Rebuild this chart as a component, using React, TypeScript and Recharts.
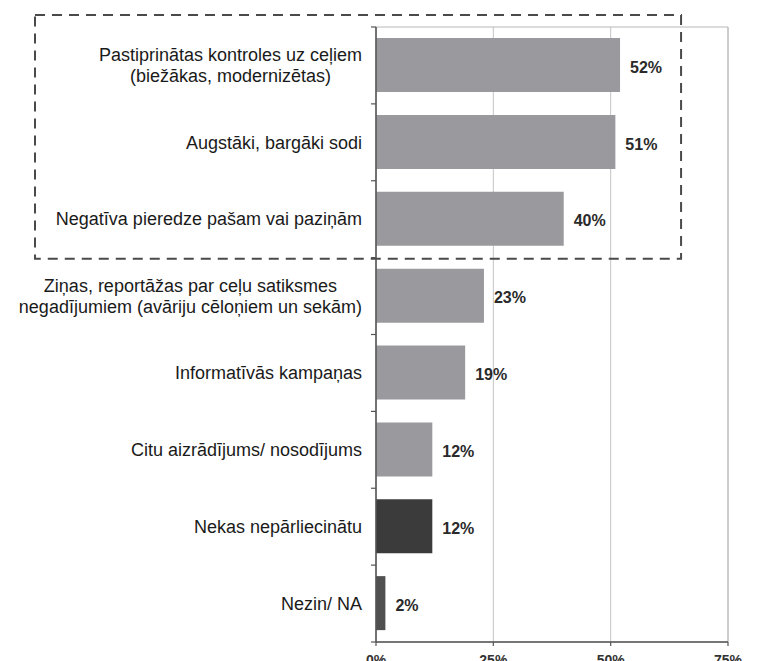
import React from "react";
import {
  BarChart,
  Bar,
  XAxis,
  YAxis,
  CartesianGrid,
  Cell,
  LabelList,
  ReferenceArea,
} from "recharts";

const categories = [
  "Pastiprinātas kontroles uz ceļiem\n(biežākas, modernizētas)",
  "Augstāki, bargāki sodi",
  "Negatīva pieredze pašam vai paziņām",
  "Ziņas, reportāžas par ceļu satiksmes\nnegadījumiem (avāriju cēloņiem un sekām)",
  "Informatīvās kampaņas",
  "Citu aizrādījums/ nosodījums",
  "Nekas nepārliecinātu",
  "Nezin/ NA",
];
const values = [52, 51, 40, 23, 19, 12, 12, 2];
const barColors = [
  "#9a9a9e",
  "#9a9a9e",
  "#9a9a9e",
  "#9a9a9e",
  "#9a9a9e",
  "#9a9a9e",
  "#3b3b3b",
  "#505050",
];
const xTicks = [0, 25, 50, 75];
const highlighted = [categories[0], categories[2]];

const data = categories.map((name, i) => ({ name, value: values[i] }));

const W = 757;
const H = 661;
const MARGIN = { top: 27, right: 29, bottom: 0, left: 0 };
const YAXIS_W = 376;
const XAXIS_H = 19;
const BAND = (H - MARGIN.top - MARGIN.bottom - XAXIS_H) / categories.length;
const LABEL_FONT = "18px 'Liberation Sans', Arial, sans-serif";

let canvasCtx: CanvasRenderingContext2D | null = null;
function measure(text: string): number {
  if (!canvasCtx) {
    const c = document.createElement("canvas");
    canvasCtx = c.getContext("2d");
  }
  if (!canvasCtx) return text.length * 9;
  canvasCtx.font = LABEL_FONT;
  return canvasCtx.measureText(text).width;
}

const CatTick = (props: any) => {
  const { y, payload, index } = props;
  const axisX = MARGIN.left + YAXIS_W;
  const rightEdge = axisX - 14;
  const lines: string[] = String(payload.value).split("\n");
  const maxW = Math.max(...lines.map(measure));
  const cx = rightEdge - maxW / 2;
  const lh = 21;
  const startY = y - ((lines.length - 1) * lh) / 2;
  return (
    <g>
      {index === 0 && (
        <line x1={axisX - 5} x2={axisX} y1={y - BAND / 2} y2={y - BAND / 2} stroke="#555" strokeWidth={1.2} />
      )}
      <line x1={axisX - 5} x2={axisX} y1={y + BAND / 2} y2={y + BAND / 2} stroke="#555" strokeWidth={1.2} />
      {lines.map((l, i) => (
        <text
          key={i}
          x={cx}
          y={startY + i * lh}
          dy="0.35em"
          textAnchor="middle"
          fill="#1a1a1a"
          style={{ font: LABEL_FONT }}
        >
          {l}
        </text>
      ))}
    </g>
  );
};

const XTick = (props: any) => {
  const { x, payload } = props;
  return (
    <text
      x={x}
      y={665}
      textAnchor="middle"
      fill="#333"
      fontFamily="'Liberation Sans', Arial, sans-serif"
      fontWeight="bold"
      fontSize={14}
    >
      {`${payload.value}%`}
    </text>
  );
};

const DashedBox = (props: any) => {
  const { x, y, width, height } = props;
  const left = x - 341;
  const top = y - 12;
  return (
    <rect
      x={left}
      y={top}
      width={x + width - left}
      height={y + height - top + 1}
      fill="none"
      stroke="#4a4a4a"
      strokeWidth={2}
      strokeDasharray="10 7"
    />
  );
};

export default function App() {
  return (
    <div style={{ position: "absolute", left: 0, top: 0, background: "#fff" }}>
      <BarChart
        width={W}
        height={H}
        data={data}
        layout="vertical"
        margin={MARGIN}
        barSize={54}
      >
        <CartesianGrid horizontal={false} vertical stroke="#c4c4c4" strokeWidth={1} />
        <ReferenceArea x1={0} x2={75} fill="none" stroke="#b8b8b8" strokeWidth={1} ifOverflow="visible" />
        <XAxis
          type="number"
          domain={[0, 75]}
          ticks={xTicks}
          height={XAXIS_H}
          axisLine={{ stroke: "#555", strokeWidth: 1.5 }}
          tickLine={{ stroke: "#555", strokeWidth: 1.2 }}
          tickSize={4}
          tick={<XTick />}
          interval={0}
        />
        <YAxis
          type="category"
          dataKey="name"
          width={YAXIS_W}
          axisLine={{ stroke: "#555", strokeWidth: 1.5 }}
          tickLine={false}
          tickSize={5}
          tickMargin={9}
          tick={<CatTick />}
          interval={0}
        />
        <Bar dataKey="value" isAnimationActive={false}>
          {data.map((d, i) => (
            <Cell key={i} fill={barColors[i]} />
          ))}
          <LabelList
            dataKey="value"
            position="right"
            offset={10}
            formatter={(v: any) => `${v}%`}
            style={{
              fontFamily: "'Liberation Sans Narrow', 'Liberation Sans', Arial, sans-serif",
              fontWeight: "bold",
              fontSize: 16,
              fill: "#2a2a2a",
            }}
            dy={2}
          />
        </Bar>
        <ReferenceArea
          y1={highlighted[0]}
          y2={highlighted[1]}
          x1={0}
          x2={65}
          ifOverflow="visible"
          shape={<DashedBox />}
        />
      </BarChart>
    </div>
  );
}
